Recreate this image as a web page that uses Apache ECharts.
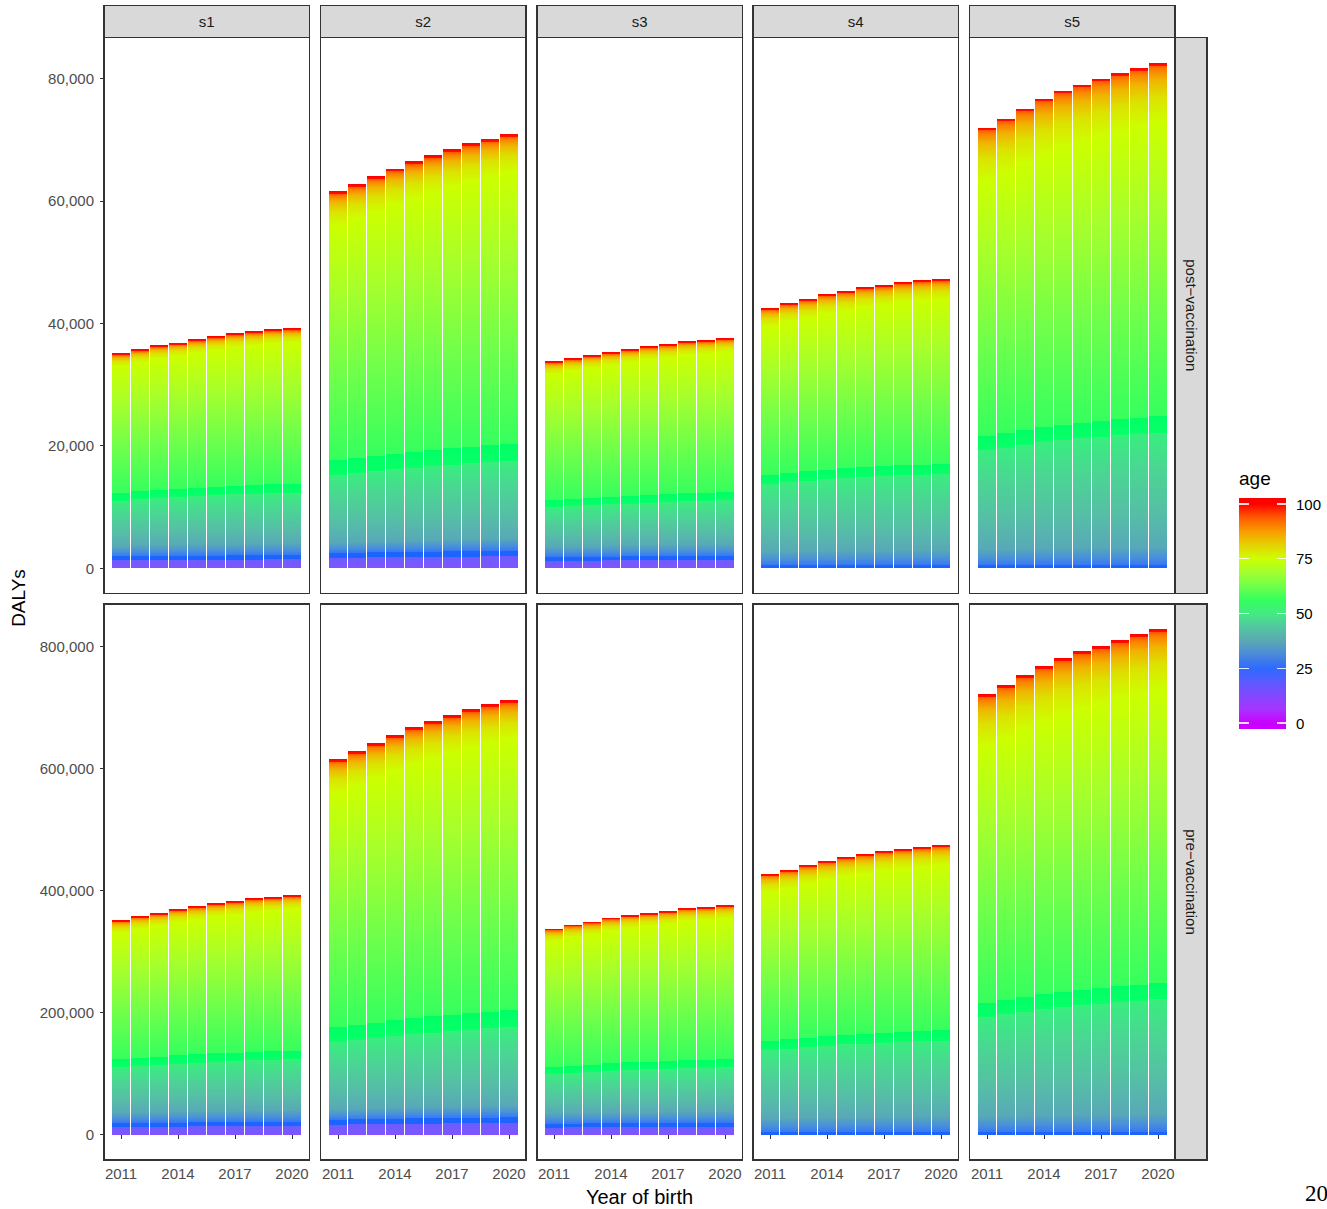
<!DOCTYPE html>
<html>
<head>
<meta charset="utf-8">
<script src="https://cdn.jsdelivr.net/npm/echarts@6/dist/echarts.min.js"></script>
<style>
html,body{margin:0;padding:0;background:#ffffff;}
#chart{width:1327px;height:1209px;}
#chart svg path{shape-rendering:crispEdges;}
</style>
</head>
<body>
<div id="chart"></div>
<script>
// ---------------- DATA ----------------
const years = [2011, 2012, 2013, 2014, 2015, 2016, 2017, 2018, 2019, 2020];
const scenarios = ['s1', 's2', 's3', 's4', 's5'];
const vaccinationRows = ['post\u2212vaccination', 'pre\u2212vaccination'];

// total DALYs per birth year (top of each stacked bar)
const post_s1 = [35060, 35710, 36370, 36810, 37350, 37840, 38330, 38650, 38980, 39140];
const post_s2 = [61520, 62660, 63970, 65270, 66420, 67400, 68380, 69360, 70170, 70990];
const post_s3 = [33750, 34240, 34730, 35220, 35710, 36200, 36530, 37020, 37180, 37510];
const post_s4 = [42410, 43220, 43880, 44690, 45190, 45840, 46160, 46650, 46980, 47140];
const post_s5 = [71960, 73440, 75070, 76700, 78010, 78990, 79970, 80950, 81760, 82580];

const pre_s1 = [351700, 358300, 363200, 369700, 374600, 379600, 382800, 387700, 389400, 392600];
const pre_s2 = [615100, 628200, 641300, 654400, 667500, 677300, 687100, 696900, 705100, 711700];
const pre_s3 = [337000, 343600, 348500, 355000, 359900, 363200, 366500, 371400, 373000, 376300];
const pre_s4 = [427000, 433500, 441700, 448300, 454800, 459700, 464600, 467900, 471200, 474400];
const pre_s5 = [721500, 736200, 752600, 767300, 780400, 791800, 800000, 809800, 819600, 827800];

// age bands (bottom to top of each bar) and the share of the bar's DALYs in each band
const ageBands = ['0-20', '20-27', '27-38', '38-50', '50-56', '56-75', '75-98', '98-100'];
const share_s1 = [0.036, 0.018, 0.046, 0.214, 0.037, 0.589, 0.052, 0.008];
const share_s2 = [0.027, 0.013, 0.026, 0.181, 0.039, 0.624, 0.083, 0.007];
const share_s3 = [0.035, 0.018, 0.047, 0.195, 0.034, 0.611, 0.053, 0.007];
const share_s4 = [0.000, 0.010, 0.050, 0.265, 0.035, 0.570, 0.064, 0.006];
const share_s5 = [0.000, 0.006, 0.034, 0.228, 0.032, 0.580, 0.114, 0.006];

// tick labels
const xTicks = [2011, 2014, 2017, 2020];
const yTicksPost = [0, 20000, 40000, 60000, 80000];
const yTicksPre = [0, 200000, 400000, 600000, 800000];
const legendTicks = [0, 25, 50, 75, 100];

// ---------------- STYLE ----------------
const bandGradients = [
  [[0, '#8254FF'], [1, '#6A5EFF']],
  [[0, '#1E62FF'], [1, '#1A66FF']],
  [[0, '#3878F5'], [0.5, '#4A92D8'], [1, '#56A6BA']],
  [[0, '#58A8B8'], [0.3, '#56BEA6'], [0.7, '#4AD792'], [1, '#38EE7E']],
  [[0, '#08FF68'], [1, '#00FF64']],
  [[0, '#36FF5E'], [0.35, '#6EFF4C'], [0.7, '#A6FF2C'], [1, '#CCFF00']],
  [[0, '#CCFF00'], [0.45, '#DCE200'], [0.75, '#F0B400'], [0.92, '#FA8200'], [1, '#FF5A00']],
  [[0, '#FF1000'], [1, '#FF0000']]
];
const legendStops = [
  [0, '#CC00FF'], [6, '#A832FF'], [12, '#8646FF'], [18, '#6058FF'], [25, '#2E6AFF'],
  [31, '#4A88DC'], [37, '#5AA6B6'], [44, '#52C8A0'], [50, '#44EA82'], [56, '#33FF5E'],
  [62, '#6CFF4C'], [69, '#A4FF2E'], [75, '#CCFF00'], [81, '#E4D400'], [87, '#F7A000'],
  [94, '#FF5800'], [100, '#FF0000']
];

const FONT = '"Liberation Sans", Arial, Helvetica, sans-serif';
const colLeft = [104, 320.5, 537, 753, 969.5];
const panelW = 205.5;
const rowTop = [37.3, 604];
const panelH = 556;
const stripTop = 5.7;
const stripH = 31.6;
const rightStripX = 1175.2;
const rightStripW = 31.8;
// bar area inside each panel (ggplot-style expansion on both sides)
const barAreaW = 190;
const barW = 18;

const postTotals = [post_s1, post_s2, post_s3, post_s4, post_s5];
const preTotals = [pre_s1, pre_s2, pre_s3, pre_s4, pre_s5];
const shares = [share_s1, share_s2, share_s3, share_s4, share_s5];

const maxPost = Math.max(...postTotals.flat());
const maxPre = Math.max(...preTotals.flat());
const yRange = [
  [-0.05 * maxPost, 1.05 * maxPost],
  [-0.05 * maxPre, 1.05 * maxPre]
];
const yTicks = [yTicksPost, yTicksPre];
const xTickIdx = xTicks.map(t => years.indexOf(t));

const grids = [], xAxes = [], yAxes = [], series = [];

function grad(stops) {
  return new echarts.graphic.LinearGradient(0, 1, 0, 0,
    stops.map(s => ({ offset: s[0], color: s[1] })));
}

for (let r = 0; r < 2; r++) {
  const totalsRow = r === 0 ? postTotals : preTotals;
  for (let c = 0; c < 5; c++) {
    const p = r * 5 + c;
    const gLeft = Math.floor(colLeft[c] + 7.5) + 0.5;
    grids.push({
      left: gLeft, top: rowTop[r], width: barAreaW, height: panelH,
      show: false, containLabel: false, outerBoundsMode: 'none'
    });
    xAxes.push({
      type: 'category', gridIndex: p, data: years.map(String), boundaryGap: true,
      axisLine: { show: false },
      splitLine: { show: false },
      axisTick: {
        show: r === 1, alignWithLabel: true, length: 4,
        interval: (i) => xTickIdx.indexOf(i) >= 0,
        lineStyle: { color: '#333333', width: 1.1 }
      },
      axisLabel: {
        show: r === 1, color: '#4D4D4D', fontSize: 15, fontFamily: FONT, margin: 6,
        interval: (i) => xTickIdx.indexOf(i) >= 0
      }
    });
    yAxes.push({
      type: 'value', gridIndex: p, min: yRange[r][0], max: yRange[r][1],
      offset: gLeft - colLeft[c],
      axisLine: { show: false },
      splitLine: { show: false },
      axisTick: {
        show: c === 0, customValues: yTicks[r], length: 4,
        lineStyle: { color: '#333333', width: 1.1 }
      },
      axisLabel: {
        show: c === 0, customValues: yTicks[r], color: '#4D4D4D',
        fontSize: 15, fontFamily: FONT, margin: 10,
        formatter: v => Number(v).toLocaleString('en-US')
      }
    });
    const totals = totalsRow[c];
    const sh = shares[c];
    for (let b = 0; b < ageBands.length; b++) {
      series.push({
        type: 'bar',
        name: scenarios[c] + ' ' + ageBands[b],
        xAxisIndex: p, yAxisIndex: p,
        stack: 'panel' + p,
        barWidth: barW,
        silent: true,
        itemStyle: { color: grad(bandGradients[b]), borderWidth: 0 },
        data: totals.map(t => t * sh[b])
      });
    }
  }
}

// ---------------- GRAPHIC (panel borders, strips, titles, legend) ----------------
const graphics = [];
function txt(x, y, text, size, color, align, rotation, family) {
  return {
    type: 'text', x: x, y: y, rotation: rotation || 0, z: 100,
    style: {
      text: text, x: 0, y: 0, fill: color,
      font: size + 'px ' + (family || FONT),
      textAlign: align || 'center', align: align || 'center',
      textVerticalAlign: 'middle', verticalAlign: 'middle'
    }
  };
}
for (let r = 0; r < 2; r++) {
  for (let c = 0; c < 5; c++) {
    graphics.push({
      type: 'rect', z: 80,
      shape: { x: colLeft[c], y: rowTop[r], width: panelW, height: panelH },
      style: { fill: 'none', stroke: '#333333', lineWidth: 1.4 }
    });
  }
}
for (let c = 0; c < 5; c++) {
  graphics.push({
    type: 'rect', z: 90,
    shape: { x: colLeft[c], y: stripTop, width: panelW, height: stripH },
    style: { fill: '#D9D9D9', stroke: '#333333', lineWidth: 1.4 }
  });
  graphics.push(txt(colLeft[c] + panelW / 2, stripTop + stripH / 2, scenarios[c], 15, '#1A1A1A'));
}
for (let r = 0; r < 2; r++) {
  graphics.push({
    type: 'rect', z: 90,
    shape: { x: rightStripX, y: rowTop[r], width: rightStripW, height: panelH },
    style: { fill: '#D9D9D9', stroke: '#333333', lineWidth: 1.4 }
  });
  graphics.push(txt(rightStripX + rightStripW / 2, rowTop[r] + panelH / 2, vaccinationRows[r], 15, '#1A1A1A', 'center', -Math.PI / 2));
}
// axis titles
graphics.push(txt(18, 598, 'DALYs', 19, '#000000', 'center', Math.PI / 2));
graphics.push(txt(639.5, 1197, 'Year of birth', 20, '#000000', 'center'));
// stray caption at bottom-right
graphics.push(txt(1305, 1193, '20', 23, '#000000', 'left', 0, '"Liberation Serif", "Times New Roman", serif'));

// colour-bar legend
const lgX = 1239, lgW = 47, lgTop = 497.7, lgBot = 729;
const age100Y = 504, age0Y = 723;
const lgH = lgBot - lgTop;
graphics.push(txt(lgX, 478, 'age', 19, '#000000', 'left'));
graphics.push({
  type: 'rect', z: 90,
  shape: { x: lgX, y: lgTop, width: lgW, height: lgH },
  style: {
    fill: new echarts.graphic.LinearGradient(0, 1, 0, 0,
      legendStops.map(s => ({
        offset: ((lgBot - age0Y) + s[0] / 100 * (age0Y - age100Y)) / lgH,
        color: s[1]
      })))
  }
});
legendTicks.forEach(t => {
  const y = age0Y - t / 100 * (age0Y - age100Y);
  graphics.push({ type: 'line', z: 95, shape: { x1: lgX, y1: y, x2: lgX + 9.5, y2: y },
    style: { stroke: 'rgba(255,255,255,0.85)', lineWidth: 1.2 } });
  graphics.push({ type: 'line', z: 95, shape: { x1: lgX + lgW - 9.5, y1: y, x2: lgX + lgW, y2: y },
    style: { stroke: 'rgba(255,255,255,0.85)', lineWidth: 1.2 } });
  graphics.push(txt(1296, y, String(t), 15, '#000000', 'left'));
});

const chart = echarts.init(document.getElementById('chart'), null, { renderer: 'svg', width: 1327, height: 1209 });
chart.setOption({
  backgroundColor: '#ffffff',
  animation: false,
  grid: grids,
  xAxis: xAxes,
  yAxis: yAxes,
  series: series,
  graphic: graphics
});
</script>
</body>
</html>
